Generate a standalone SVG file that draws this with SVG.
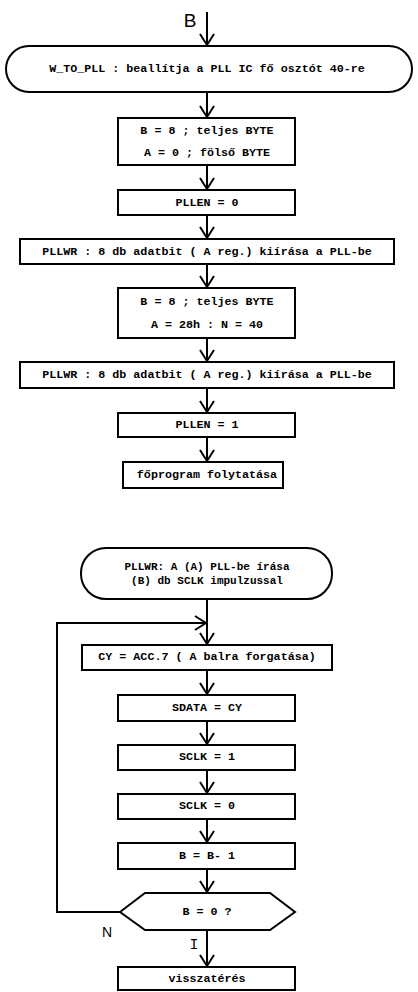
<svg xmlns="http://www.w3.org/2000/svg" width="418" height="992" viewBox="0 0 418 992">
<style>
.box{fill:#fff;stroke:#000;stroke-width:2}
.t{font-family:"Liberation Mono",monospace;font-weight:bold;font-size:11.7px;fill:#000;text-anchor:middle;dominant-baseline:central}
.t2{font-size:11px}
.lbl{font-family:"Liberation Sans",Arial,sans-serif;fill:#000;text-anchor:middle;dominant-baseline:central}
.c{fill:none;stroke:#000;stroke-width:2}
</style>
<defs>
<marker id="ah" viewBox="-13 -8 15 16" markerWidth="15" markerHeight="16" refX="0" refY="0" markerUnits="userSpaceOnUse" orient="auto">
<path d="M-11,-7 L0,0 L-11,7" fill="none" stroke="#000" stroke-width="2"/>
</marker>
</defs>
<rect width="418" height="992" fill="#fff"/>
<g id="connectors">
<path class="c" d="M207,12 V45" marker-end="url(#ah)"/>
<path class="c" d="M207,92 V117" marker-end="url(#ah)"/>
<path class="c" d="M207,165 V189" marker-end="url(#ah)"/>
<path class="c" d="M207,215 V238" marker-end="url(#ah)"/>
<path class="c" d="M207,264 V287" marker-end="url(#ah)"/>
<path class="c" d="M207,338 V361" marker-end="url(#ah)"/>
<path class="c" d="M207,388 V412" marker-end="url(#ah)"/>
<path class="c" d="M207,437 V461" marker-end="url(#ah)"/>
<path class="c" d="M207,599 V644" marker-end="url(#ah)"/>
<path class="c" d="M120,912 H57 V623 H206" marker-end="url(#ah)"/>
<path class="c" d="M207,670 V694" marker-end="url(#ah)"/>
<path class="c" d="M207,721 V744" marker-end="url(#ah)"/>
<path class="c" d="M207,770 V793" marker-end="url(#ah)"/>
<path class="c" d="M207,819 V842" marker-end="url(#ah)"/>
<path class="c" d="M207,869 V892" marker-end="url(#ah)"/>
<path class="c" d="M207,930 V966" marker-end="url(#ah)"/>
<text class="lbl" x="190" y="20" font-size="19" fill="#000">B</text>
<text class="lbl" x="107" y="932" font-size="14" fill="#000">N</text>
<text class="lbl" x="194" y="945" font-size="15" fill="#000" style="font-family:'Liberation Mono',monospace">I</text>
</g>
<g id="start1">
<rect class="box" x="6" y="46" width="406" height="46" rx="23"/>
<text class="t" x="207" y="69">W_TO_PLL : beallítja a PLL IC fő osztót 40-re</text>
</g>
<g id="init1">
<rect class="box" x="118" y="118" width="177" height="47"/>
<text class="t" x="207" y="131">B = 8 ; teljes BYTE</text>
<text class="t" x="207" y="153">A = 0 ; fölső BYTE</text>
</g>
<g id="pllen0">
<rect class="box" x="118" y="190" width="177" height="25"/>
<text class="t" x="207" y="203">PLLEN = 0</text>
</g>
<g id="pllwr1">
<rect class="box" x="20" y="239" width="374" height="25"/>
<text class="t" x="207" y="252">PLLWR  : 8 db adatbit ( A reg.) kiírása a PLL-be</text>
</g>
<g id="init2">
<rect class="box" x="118" y="288" width="177" height="50"/>
<text class="t" x="207" y="302">B = 8 ; teljes BYTE</text>
<text class="t" x="207" y="325">A = 28h : N = 40</text>
</g>
<g id="pllwr2">
<rect class="box" x="20" y="362" width="374" height="26"/>
<text class="t" x="207" y="375">PLLWR  : 8 db adatbit ( A reg.) kiírása a PLL-be</text>
</g>
<g id="pllen1">
<rect class="box" x="118" y="413" width="177" height="24"/>
<text class="t" x="207" y="425">PLLEN = 1</text>
</g>
<g id="continue">
<rect class="box" x="123" y="462" width="160" height="26"/>
<text class="t" x="207" y="475">főprogram folytatása</text>
</g>
<g id="start2">
<rect class="box" x="81" y="548" width="251" height="51" rx="25"/>
<text class="t t2" x="207" y="567">PLLWR: A (A) PLL-be írása</text>
<text class="t t2" x="207" y="580.5">(B) db SCLK impulzussal</text>
</g>
<g id="cy">
<rect class="box" x="82" y="645" width="250" height="25"/>
<text class="t" x="207" y="657">CY = ACC.7 ( A balra forgatása)</text>
</g>
<g id="sdata">
<rect class="box" x="118" y="695" width="177" height="26"/>
<text class="t" x="207" y="708">SDATA = CY</text>
</g>
<g id="sclk1">
<rect class="box" x="118" y="745" width="177" height="25"/>
<text class="t" x="207" y="757">SCLK = 1</text>
</g>
<g id="sclk0">
<rect class="box" x="118" y="794" width="177" height="25"/>
<text class="t" x="207" y="806">SCLK = 0</text>
</g>
<g id="bdec">
<rect class="box" x="118" y="843" width="177" height="26"/>
<text class="t" x="207" y="856">B = B- 1</text>
</g>
<g id="decision">
<polygon class="box" points="120,912 145,893 270,893 295,912 270,930 145,930"/>
<text class="t" x="207" y="912">B = 0 ?</text>
</g>
<g id="ret">
<rect class="box" x="118" y="967" width="177" height="23"/>
<text class="t" x="207" y="979">visszatérés</text>
</g>
</svg>
